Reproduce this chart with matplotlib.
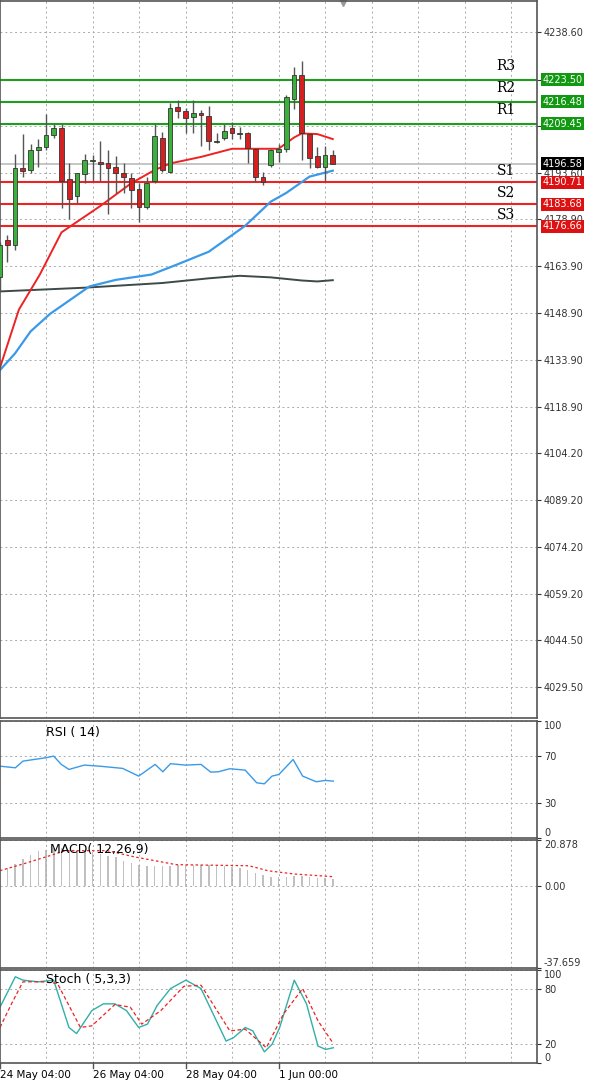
import matplotlib
matplotlib.use('Agg')
import numpy as np
import matplotlib.pyplot as plt
import matplotlib.transforms as mtrans

# candles: index, open, high, low, close
idx = np.arange(-1, 43)
opens = [4160.5, 4172.4, 4170.6, 4195.4, 4194.6, 4200.9, 4201.9, 4205.8, 4208.2, 4191.7, 4186.2,
         4193.3, 4197.5, 4197.2, 4196.9, 4195.7, 4193.8, 4192.0, 4188.5, 4182.9, 4191.1, 4205.0,
         4194.1, 4214.7, 4213.4, 4211.5, 4212.9, 4211.8, 4203.5, 4204.8, 4208.2, 4206.1, 4206.3,
         4201.4, 4192.3, 4196.2, 4200.3, 4201.4, 4217.4, 4224.9, 4206.1, 4199.0, 4195.7, 4199.3]
highs = [4171.5, 4173.7, 4199.8, 4206.1, 4203.0, 4204.5, 4212.4, 4209.4, 4209.4, 4196.9, 4193.6,
         4199.6, 4199.3, 4203.8, 4200.9, 4199.0, 4196.7, 4193.6, 4190.4, 4192.5, 4209.4, 4206.9,
         4216.0, 4217.1, 4214.5, 4217.1, 4213.9, 4215.0, 4206.3, 4209.2, 4209.8, 4208.4, 4206.9,
         4201.4, 4194.1, 4201.4, 4203.0, 4218.6, 4227.5, 4229.6, 4206.6, 4202.1, 4202.4, 4200.9]
lows = [4156.0, 4165.3, 4169.0, 4192.5, 4193.6, 4195.7, 4200.9, 4205.0, 4182.6, 4179.1, 4184.1,
        4190.6, 4191.1, 4191.1, 4180.5, 4187.3, 4187.3, 4182.6, 4177.9, 4182.1, 4190.4, 4194.1,
        4193.6, 4211.3, 4206.6, 4206.6, 4202.4, 4200.9, 4203.2, 4204.2, 4204.5, 4204.5, 4197.0,
        4190.9, 4189.9, 4195.7, 4197.2, 4200.3, 4214.0, 4197.7, 4195.1, 4195.1, 4191.0, 4196.5]
closes = [4170.6, 4170.8, 4195.1, 4194.4, 4200.9, 4202.1, 4205.8, 4208.0, 4191.1, 4185.4, 4193.8,
          4197.7, 4197.6, 4196.5, 4195.1, 4193.6, 4192.5, 4188.3, 4182.9, 4190.4, 4205.5, 4194.6,
          4214.5, 4213.4, 4211.3, 4212.9, 4212.2, 4203.8, 4203.6, 4207.1, 4206.3, 4206.2, 4201.7,
          4192.5, 4190.9, 4200.9, 4201.4, 4218.1, 4224.9, 4206.3, 4198.3, 4195.7, 4199.3, 4196.6]

# moving averages (knots)
ma_red_x = [-1, 1.5, 4.2, 7, 12, 16, 19, 21, 25, 29, 32, 35, 37, 38, 40, 42]
ma_red_y = [4131, 4150, 4161.2, 4174.7, 4183.1, 4190.4, 4194.6, 4196.7, 4198.8, 4201.4, 4201.4,
            4201.4, 4205.0, 4206.3, 4206.1, 4204.5]
ma_blue_x = [-1, 1, 3, 5.5, 10.6, 14, 18.6, 22, 26, 30.7, 34, 36, 39, 42]
ma_blue_y = [4130.5, 4136, 4143, 4148.6, 4157.4, 4159.5, 4161.2, 4164.5, 4168.5, 4176.8, 4184.5,
             4187.3, 4192.5, 4194.4]
ma_grey_x = [-1, 10, 20, 26, 30, 34, 38, 40, 42]
ma_grey_y = [4155.8, 4157.0, 4158.5, 4160.0, 4160.8, 4160.3, 4159.3, 4159.0, 4159.4]

res_levels = [4223.50, 4216.48, 4209.45]
res_names = ['R3', 'R2', 'R1']
sup_levels = [4190.71, 4183.68, 4176.66]
sup_names = ['S1', 'S2', 'S3']
last_price = 4196.58
price_ticks = [4238.60, 4223.50, 4208.60, 4193.60, 4178.90, 4163.90, 4148.90, 4133.90, 4118.90,
               4104.20, 4089.20, 4074.20, 4059.20, 4044.50, 4029.50]

rsi_x = [-0.94, 1.04, 2.02, 4.99, 5.98, 6.97, 7.96, 9.93, 11.9, 14.88, 16.95, 19.08, 20.07, 21.06,
         23.04, 25.0, 26.25, 27.24, 28.72, 30.7, 32.18, 33.17, 34.16, 35.05, 36.88, 38.11, 39.85,
         41.08, 42.07]
rsi_y = [61.4, 60.0, 65.7, 68.6, 70.0, 62.9, 58.6, 62.3, 61.4, 59.5, 52.9, 62.9, 56.6, 63.5,
         62.3, 62.9, 56.3, 56.6, 59.2, 58.0, 47.2, 46.3, 52.9, 54.3, 67.1, 52.9, 48.1, 49.2, 48.6]

macd_hist = [7, 8, 10, 12, 14, 16, 16.5, 17, 17, 16.5, 16.5, 16, 15.5, 14.5, 13.5, 13, 11.5, 10.5,
             9.5, 9, 9, 9, 9, 9.5, 9.5, 9.5, 9.5, 9.5, 9, 9, 8.5, 8, 7, 6, 5, 4, 4, 4, 4.5, 4.5,
             4, 3.5, 3.5, 3]
macd_sig_x = [-0.94, 2.02, 5.48, 7.46, 12.9, 16.36, 21.8, 31.2, 33.66, 37.1, 42.07]
macd_sig_y = [6.85, 9.9, 13.7, 16, 16, 13.2, 9.6, 9.1, 6.8, 5.3, 4.1]

st_x = [-0.94, 1.04, 2.02, 4.0, 5.98, 7.96, 8.94, 10.92, 12.4, 13.89, 15.37, 16.95, 18.09, 19.33,
        21.06, 23.04, 25.0, 28.23, 29.21, 30.7, 31.68, 33.17, 34.16, 35.15, 37.03, 38.61, 40.09,
        41.08, 42.07]
st_y = [60.0, 92.7, 89.1, 87.3, 89.1, 38.2, 31.7, 56.4, 63.6, 63.6, 56.4, 38.2, 41.8, 61.8,
        80.0, 89.1, 80.0, 23.6, 27.3, 38.2, 34.5, 12.0, 20.0, 38.2, 89.1, 63.6, 18.2, 14.6, 16.4]
sig_x = [-0.94, 0.54, 2.02, 4.5, 6.47, 9.44, 10.92, 13.89, 15.87, 17.35, 19.82, 22.79, 25.0,
         28.72, 30.7, 33.42, 35.64, 38.11, 40.09, 42.07]
sig_y = [38.2, 63.6, 87.3, 87.3, 85.5, 38.2, 40.0, 62.9, 60.0, 41.8, 56.4, 82.5, 83.6, 34.5,
         36.4, 16.4, 52.7, 80.0, 45.4, 20.8]

date_pos = [-1, 11, 23, 35]
date_labels = ['24 May 04:00', '26 May 04:00', '28 May 04:00', '1 Jun 00:00']
grid_x = [5, 11, 17, 23, 29, 35, 41, 47, 53, 59, 65]

GREEN = '#1e9e1e'
RED = '#ee2222'
XL = (-0.94, 68.35)

fig = plt.figure(figsize=(6, 10.88), dpi=100)
H = 1088.0
def box(top, bot):
    return [0.0, 1 - bot / H, 0.895, (bot - top) / H]

ax = fig.add_axes(box(1, 718))
ax_rsi = fig.add_axes(box(721, 838))
ax_macd = fig.add_axes(box(840, 968))
ax_st = fig.add_axes(box(970, 1063))

for a in (ax, ax_rsi, ax_macd, ax_st):
    a.set_xlim(*XL)
    a.yaxis.tick_right()
    a.tick_params(axis='y', labelsize=7, length=3, pad=2, colors='#333333')
    a.tick_params(axis='x', length=0, labelbottom=False)
    a.set_xticks(grid_x)
    a.grid(True, color='#aaaaaa', linestyle=(0, (2, 3)), linewidth=0.7)
    for s in a.spines.values():
        s.set_color('#555555')
        s.set_linewidth(1.2)

def edge_labels(a):
    labs = a.get_yticklabels()
    labs[0].set_va('top')
    labs[-1].set_va('bottom')

# main chart
ax.set_ylim(4029.5 - 32 / 3.19, 4238.6 + 32 / 3.19)
ax.set_yticks(price_ticks)
ax.set_yticklabels(['' if p in (4223.50, 4208.60) else '%.2f' % p for p in price_ticks])
for lv in res_levels:
    ax.axhline(lv, color=GREEN, linewidth=1.5)
for lv in sup_levels:
    ax.axhline(lv, color=RED, linewidth=1.5)
ax.axhline(last_price, color='#bbbbbb', linewidth=1.2)
ax.plot(ma_grey_x, ma_grey_y, color='#3c4a48', linewidth=1.4)
ax.plot(ma_blue_x, ma_blue_y, color='#3a9ae8', linewidth=1.6)
ax.plot(ma_red_x, ma_red_y, color=RED, linewidth=1.4)

for i, o, h, l, c in zip(idx, opens, highs, lows, closes):
    up = c >= o
    ax.vlines(i, l, h, color='#555555', linewidth=1)
    col = '#3bb03b' if up else '#d42020'
    ax.bar(i, max(abs(c - o), 0.4), bottom=min(o, c), width=0.6, color=col,
           edgecolor='#333333', linewidth=0.6, zorder=3)

tr = mtrans.blended_transform_factory(ax.transAxes, ax.transData)
for lv, nm in zip(res_levels, res_names):
    ax.text(0.925, lv + 2.2, nm, transform=tr, fontsize=10, ha='left', va='bottom', family='serif')
    ax.text(1.01, lv, '%.2f' % lv, transform=tr, fontsize=7, color='white', va='center',
            bbox=dict(boxstyle='square,pad=0.15', fc='#119911', ec='none'), clip_on=False)
for lv, nm in zip(sup_levels, sup_names):
    ax.text(0.925, lv + 1.2, nm, transform=tr, fontsize=10, ha='left', va='bottom', family='serif')
    ax.text(1.01, lv, '%.2f' % lv, transform=tr, fontsize=7, color='white', va='center',
            bbox=dict(boxstyle='square,pad=0.15', fc='#dd1111', ec='none'), clip_on=False)
ax.text(1.01, last_price, '%.2f' % last_price, transform=tr, fontsize=7, color='white', va='center',
        bbox=dict(boxstyle='square,pad=0.15', fc='black', ec='none'), clip_on=False)
ax.plot([0.638], [1.0], marker='v', color='#999999', markersize=7, transform=ax.transAxes,
        clip_on=False)

# RSI
ax_rsi.set_ylim(0, 100)
ax_rsi.set_yticks([100, 70, 30, 0])
ax_rsi.set_yticklabels(['100', '70', '30', '0'])
edge_labels(ax_rsi)
ax_rsi.plot(rsi_x, rsi_y, color='#3a9ae8', linewidth=1)
ax_rsi.text(5.0, 96, 'RSI ( 14)', fontsize=9, va='top')

# MACD
ax_macd.set_ylim(-37.659, 20.878)
ax_macd.set_yticks([20.878, 0, -37.659])
ax_macd.set_yticklabels(['20.878', '0.00', '-37.659'])
labs = ax_macd.get_yticklabels()
labs[0].set_va('top')
labs[2].set_va('bottom')
ax_macd.bar(idx, macd_hist, width=0.2, color='#c0c0c0')
ax_macd.plot(macd_sig_x, macd_sig_y, color=RED, linewidth=0.9, linestyle=(0, (2, 2)))
ax_macd.text(5.5, 19.5, 'MACD( 12,26,9)', fontsize=9, va='top')

# Stochastic
ax_st.set_ylim(0, 100)
ax_st.set_yticks([100, 80, 20, 0])
ax_st.set_yticklabels(['100', '80', '20', '0'])
edge_labels(ax_st)
ax_st.plot(st_x, st_y, color='#30b0a8', linewidth=1)
ax_st.plot(sig_x, sig_y, color=RED, linewidth=0.9, linestyle=(0, (3, 2)))
ax_st.text(5.0, 97, 'Stoch ( 5,3,3)', fontsize=9, va='top')

trx = mtrans.blended_transform_factory(ax_st.transData, ax_st.transAxes)
for p, lab in zip(date_pos, date_labels):
    ax_st.plot([p, p], [0, -0.05], color='#555555', linewidth=1, transform=trx, clip_on=False)
    ax_st.text(p if p >= 0 else -0.9, -0.08, lab, transform=trx, fontsize=7.5, ha='left', va='top')

fig.savefig('out.png', dpi=100)
